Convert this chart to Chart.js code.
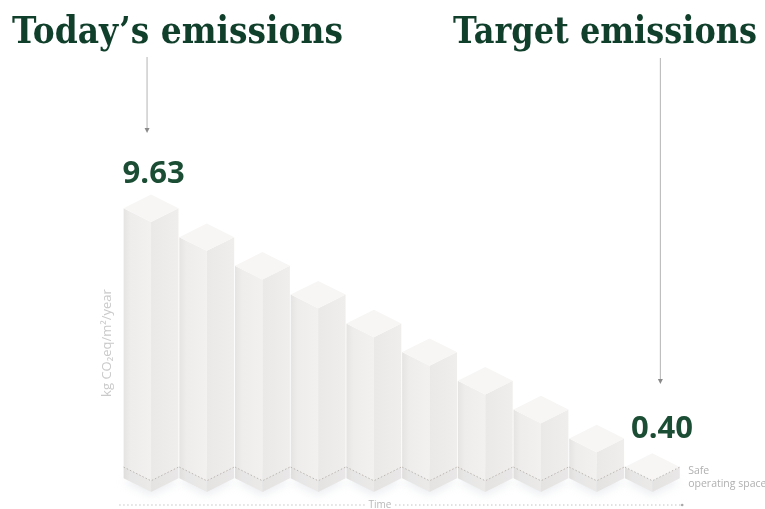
<!DOCTYPE html>
<html>
<head>
<meta charset="utf-8">
<script src="https://cdn.jsdelivr.net/npm/chart.js@4.4.1/dist/chart.umd.min.js"></script>
<style>
  html, body { margin: 0; padding: 0; background: #fff; }
  #wrap { position: relative; width: 765px; height: 509px; overflow: hidden; }
  #c { position: absolute; left: 0; top: 0; }
  .ttl { position: absolute; margin: 0; font-family: "DejaVu Serif", serif; font-weight: bold;
         font-size: 38px; line-height: 38px; color: #103f2b; white-space: nowrap; transform-origin: 0 0; }
</style>
</head>
<body>
<div id="wrap">
  <canvas id="c" width="765" height="509"></canvas>
  <div class="ttl" data-w="331" style="left:12px;top:11px">Today’s emissions</div>
  <div class="ttl" data-w="304" style="left:453px;top:11px">Target emissions</div>
</div>
<script>
// 排出量の削減ステップ(アイソメ風の角柱で描画)
var periods = ["1", "2", "3", "4", "5", "6", "7", "8", "9", "10"];
var emissions = [9.63, 8.60, 7.58, 6.55, 5.52, 4.50, 3.48, 2.45, 1.42, 0.40];
var safeLevel = 0.40;
var yAxisTitle = "kg CO₂eq/m²/year";
var xAxisTitle = "Time";
var safeText = ["Safe", "operating space"];

var GREEN = "#1b4d34";

function poly(ctx, pts) {
    ctx.beginPath();
    ctx.moveTo(pts[0][0], pts[0][1]);
    for (var i = 1; i < pts.length; i++) ctx.lineTo(pts[i][0], pts[i][1]);
    ctx.closePath();
}

function arrow(ctx, x, y0, y1) {
    ctx.strokeStyle = "#b4b4b4";
    ctx.lineWidth = 1;
    ctx.beginPath(); ctx.moveTo(x, y0); ctx.lineTo(x, y1 - 3); ctx.stroke();
    ctx.fillStyle = "#8a8a8a";
    poly(ctx, [[x - 2.5, y1 - 5], [x + 2.5, y1 - 5], [x, y1]]);
    ctx.fill();
}

// 角柱の左面・右面・上面と安全ラインを描く
var isoPlugin = {
    id: "iso",
    beforeDatasetsDraw: function (c) {
        var meta = c.getDatasetMeta(0), ctx = c.ctx;
        ctx.save();
        ctx.filter = "blur(4px)";
        ctx.fillStyle = "rgba(200,208,214,0.35)";
        meta.data.forEach(function (b) {
            var hw = b.width / 2, d = hw * 0.5, xf = b.x, yb = b.base + 4;
            poly(ctx, [[xf - hw, yb - d], [xf, yb], [xf + hw, yb - d], [xf, yb - 2 * d]]);
            ctx.fill();
        });
        ctx.restore();
    },
    afterDatasetsDraw: function (c) {
        var meta = c.getDatasetMeta(0), ctx = c.ctx, y = c.scales.y, area = c.chartArea;
        var ys = y.getPixelForValue(safeLevel);
        ctx.save();
        meta.data.forEach(function (b, i) {
            var hw = b.width / 2, d = hw * 0.5, xf = b.x, yt = b.y, yb = b.base;
            var gl = ctx.createLinearGradient(xf - hw, 0, xf, 0);
            gl.addColorStop(0, "#e6e4e2"); gl.addColorStop(0.25, "#eeedeb"); gl.addColorStop(1, "#f2f1ef");
            ctx.fillStyle = gl;
            poly(ctx, [[xf - hw, yt - d], [xf, yt], [xf, yb], [xf - hw, yb - d]]);
            ctx.fill();
            var gr = ctx.createLinearGradient(xf, 0, xf + hw, 0);
            gr.addColorStop(0, "#ebe9e7"); gr.addColorStop(1, "#f0eeec");
            ctx.fillStyle = gr;
            poly(ctx, [[xf, yt], [xf + hw, yt - d], [xf + hw, yb - d], [xf, yb]]);
            ctx.fill();
            ctx.fillStyle = "#f7f6f5";
            poly(ctx, [[xf - hw, yt - d], [xf, yt - 2 * d], [xf + hw, yt - d], [xf, yt]]);
            ctx.fill();
            // 安全ライン以下はわずかに暗く
            ctx.fillStyle = "rgba(120,120,130,0.05)";
            poly(ctx, [[xf - hw, ys - d], [xf, ys], [xf + hw, ys - d], [xf + hw, yb - d], [xf, yb], [xf - hw, yb - d]]);
            ctx.fill();
            ctx.strokeStyle = "#bcb8b4";
            ctx.lineWidth = 1;
            ctx.setLineDash([1.5, 2]);
            ctx.beginPath();
            ctx.moveTo(xf - hw, ys - d); ctx.lineTo(xf, ys); ctx.lineTo(xf + hw, ys - d);
            ctx.stroke();
            ctx.setLineDash([]);
        });

        // 最初と最後の値
        var first = meta.data[0], last = meta.data[meta.data.length - 1];
        ctx.fillStyle = GREEN;
        ctx.font = "700 31px 'Open Sans', sans-serif";
        ctx.textBaseline = "alphabetic";
        ctx.textAlign = "left";
        ctx.fillText(emissions[0].toFixed(2), first.x - first.width / 2 - 1, first.y - first.width / 2 - 12);
        ctx.fillText(emissions[emissions.length - 1].toFixed(2), last.x - last.width / 2 + 6, last.y - last.width / 2 - 15);

        arrow(ctx, first.x - 4, 57, 133);
        arrow(ctx, last.x + 8, 58, 384);

        // 縦軸タイトル
        ctx.save();
        ctx.translate(area.left - 16, 343);
        ctx.rotate(-Math.PI / 2);
        ctx.fillStyle = "#cacaca";
        ctx.font = "13px 'Open Sans', sans-serif";
        ctx.textAlign = "center";
        ctx.textBaseline = "middle";
        ctx.fillText(yAxisTitle, 0, 0);
        ctx.restore();

        // 時間軸(点線)
        var ty = 505, tx = 380;
        ctx.strokeStyle = "#c4c4c4";
        ctx.setLineDash([1.5, 2.5]);
        ctx.beginPath();
        ctx.moveTo(area.left - 4, ty); ctx.lineTo(tx - 15, ty);
        ctx.moveTo(tx + 15, ty); ctx.lineTo(area.right + 2, ty);
        ctx.stroke();
        ctx.setLineDash([]);
        ctx.fillStyle = "#a8a8a8";
        ctx.beginPath(); ctx.arc(area.right + 2, ty, 1.3, 0, Math.PI * 2); ctx.fill();
        ctx.fillStyle = "#b8b8b8";
        ctx.font = "10px 'Open Sans', sans-serif";
        ctx.textAlign = "center";
        ctx.textBaseline = "middle";
        ctx.fillText(xAxisTitle, tx, ty);

        ctx.fillStyle = "#b0b0b0";
        ctx.font = "10.5px 'Open Sans', sans-serif";
        ctx.textAlign = "left";
        ctx.textBaseline = "alphabetic";
        ctx.fillText(safeText[0], area.right + 8, 474);
        ctx.fillText(safeText[1], area.right + 8, 487);
        ctx.restore();
    },
};

new Chart(document.getElementById("c").getContext("2d"), {
    type: "bar",
    data: {
        labels: periods,
        datasets: [{ data: emissions, backgroundColor: "rgba(0,0,0,0)", borderWidth: 0,
                     barPercentage: 0.985, categoryPercentage: 1 }],
    },
    plugins: [isoPlugin],
    options: {
        responsive: false, animation: false, devicePixelRatio: 1,
        layout: { padding: { left: 123.2, right: 84.8, top: 211.6, bottom: 17 } },
        scales: {
            x: { display: false },
            y: { display: false, min: 0, max: 10 },
        },
        plugins: { legend: { display: false }, tooltip: { enabled: false } },
    },
});

// 見出しを参照の幅に合わせる
document.querySelectorAll(".ttl").forEach(function (el) {
    var w = el.getBoundingClientRect().width;
    el.style.transform = "scaleX(" + (parseFloat(el.dataset.w) / w) + ")";
});
</script>
</body>
</html>
